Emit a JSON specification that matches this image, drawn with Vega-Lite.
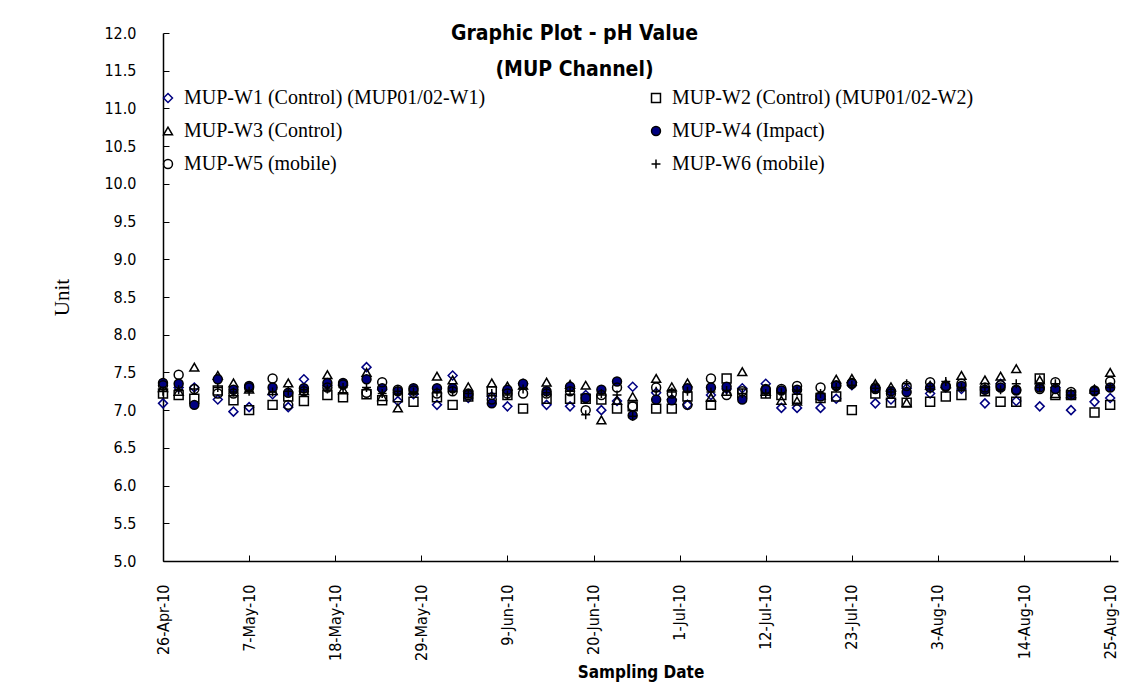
{
"$schema": "https://vega.github.io/schema/vega-lite/v6.json",
"width": 955, "height": 528,
"autosize": {"type": "none"},
"padding": {"left": 163, "top": 33, "right": 13, "bottom": 139},
"background": "white",
"config": {"view": {"stroke": null}, "font": "DejaVu Sans Condensed"},
"title": {"text": ["Graphic Plot - pH Value", "(MUP Channel)"], "font": "DejaVu Sans Condensed", "fontWeight": "bold", "fontSize": 21, "color": "black", "anchor": "middle", "dx": -66, "offset": -55, "lineHeight": 36},
"datasets": {"ph": [
{"date":"2010-04-26","series":"W1","pH":7.09},{"date":"2010-04-28","series":"W1","pH":7.30},{"date":"2010-04-30","series":"W1","pH":7.30},{"date":"2010-05-03","series":"W1","pH":7.14},{"date":"2010-05-05","series":"W1","pH":6.98},{"date":"2010-05-07","series":"W1","pH":7.04},{"date":"2010-05-10","series":"W1","pH":7.21},{"date":"2010-05-12","series":"W1","pH":7.04},{"date":"2010-05-14","series":"W1","pH":7.41},{"date":"2010-05-17","series":"W1","pH":7.33},{"date":"2010-05-19","series":"W1","pH":7.33},{"date":"2010-05-22","series":"W1","pH":7.57},{"date":"2010-05-24","series":"W1","pH":7.27},{"date":"2010-05-26","series":"W1","pH":7.12},{"date":"2010-05-28","series":"W1","pH":7.21},{"date":"2010-05-31","series":"W1","pH":7.07},{"date":"2010-06-02","series":"W1","pH":7.46},{"date":"2010-06-04","series":"W1","pH":7.16},{"date":"2010-06-07","series":"W1","pH":7.18},{"date":"2010-06-09","series":"W1","pH":7.05},{"date":"2010-06-11","series":"W1","pH":7.35},{"date":"2010-06-14","series":"W1","pH":7.07},{"date":"2010-06-17","series":"W1","pH":7.05},{"date":"2010-06-19","series":"W1","pH":7.20},{"date":"2010-06-21","series":"W1","pH":7.00},{"date":"2010-06-23","series":"W1","pH":7.12},{"date":"2010-06-25","series":"W1","pH":7.31},{"date":"2010-06-28","series":"W1","pH":7.23},{"date":"2010-06-30","series":"W1","pH":7.14},{"date":"2010-07-02","series":"W1","pH":7.07},{"date":"2010-07-05","series":"W1","pH":7.20},{"date":"2010-07-07","series":"W1","pH":7.28},{"date":"2010-07-09","series":"W1","pH":7.29},{"date":"2010-07-12","series":"W1","pH":7.35},{"date":"2010-07-14","series":"W1","pH":7.03},{"date":"2010-07-16","series":"W1","pH":7.03},{"date":"2010-07-19","series":"W1","pH":7.03},{"date":"2010-07-21","series":"W1","pH":7.15},{"date":"2010-07-23","series":"W1","pH":7.33},{"date":"2010-07-26","series":"W1","pH":7.09},{"date":"2010-07-28","series":"W1","pH":7.14},{"date":"2010-07-30","series":"W1","pH":7.29},{"date":"2010-08-02","series":"W1","pH":7.22},{"date":"2010-08-04","series":"W1","pH":7.30},{"date":"2010-08-06","series":"W1","pH":7.28},{"date":"2010-08-09","series":"W1","pH":7.09},{"date":"2010-08-11","series":"W1","pH":7.35},{"date":"2010-08-13","series":"W1","pH":7.12},{"date":"2010-08-16","series":"W1","pH":7.05},{"date":"2010-08-18","series":"W1","pH":7.30},{"date":"2010-08-20","series":"W1","pH":7.00},{"date":"2010-08-23","series":"W1","pH":7.11},{"date":"2010-08-25","series":"W1","pH":7.16},
{"date":"2010-04-26","series":"W2","pH":7.22},{"date":"2010-04-28","series":"W2","pH":7.20},{"date":"2010-04-30","series":"W2","pH":7.15},{"date":"2010-05-03","series":"W2","pH":7.26},{"date":"2010-05-05","series":"W2","pH":7.13},{"date":"2010-05-07","series":"W2","pH":7.00},{"date":"2010-05-10","series":"W2","pH":7.07},{"date":"2010-05-12","series":"W2","pH":7.18},{"date":"2010-05-14","series":"W2","pH":7.12},{"date":"2010-05-17","series":"W2","pH":7.20},{"date":"2010-05-19","series":"W2","pH":7.17},{"date":"2010-05-22","series":"W2","pH":7.21},{"date":"2010-05-24","series":"W2","pH":7.13},{"date":"2010-05-26","series":"W2","pH":7.17},{"date":"2010-05-28","series":"W2","pH":7.11},{"date":"2010-05-31","series":"W2","pH":7.17},{"date":"2010-06-02","series":"W2","pH":7.07},{"date":"2010-06-04","series":"W2","pH":7.18},{"date":"2010-06-07","series":"W2","pH":7.25},{"date":"2010-06-09","series":"W2","pH":7.20},{"date":"2010-06-11","series":"W2","pH":7.02},{"date":"2010-06-14","series":"W2","pH":7.15},{"date":"2010-06-17","series":"W2","pH":7.15},{"date":"2010-06-19","series":"W2","pH":7.15},{"date":"2010-06-21","series":"W2","pH":7.14},{"date":"2010-06-23","series":"W2","pH":7.02},{"date":"2010-06-25","series":"W2","pH":7.05},{"date":"2010-06-28","series":"W2","pH":7.02},{"date":"2010-06-30","series":"W2","pH":7.02},{"date":"2010-07-02","series":"W2","pH":7.18},{"date":"2010-07-05","series":"W2","pH":7.07},{"date":"2010-07-07","series":"W2","pH":7.42},{"date":"2010-07-09","series":"W2","pH":7.22},{"date":"2010-07-12","series":"W2","pH":7.22},{"date":"2010-07-14","series":"W2","pH":7.20},{"date":"2010-07-16","series":"W2","pH":7.15},{"date":"2010-07-19","series":"W2","pH":7.16},{"date":"2010-07-21","series":"W2","pH":7.18},{"date":"2010-07-23","series":"W2","pH":7.00},{"date":"2010-07-26","series":"W2","pH":7.22},{"date":"2010-07-28","series":"W2","pH":7.10},{"date":"2010-07-30","series":"W2","pH":7.10},{"date":"2010-08-02","series":"W2","pH":7.11},{"date":"2010-08-04","series":"W2","pH":7.18},{"date":"2010-08-06","series":"W2","pH":7.20},{"date":"2010-08-09","series":"W2","pH":7.25},{"date":"2010-08-11","series":"W2","pH":7.11},{"date":"2010-08-13","series":"W2","pH":7.11},{"date":"2010-08-16","series":"W2","pH":7.42},{"date":"2010-08-18","series":"W2","pH":7.20},{"date":"2010-08-20","series":"W2","pH":7.20},{"date":"2010-08-23","series":"W2","pH":6.97},{"date":"2010-08-25","series":"W2","pH":7.07},
{"date":"2010-04-26","series":"W3","pH":7.30},{"date":"2010-04-28","series":"W3","pH":7.25},{"date":"2010-04-30","series":"W3","pH":7.57},{"date":"2010-05-03","series":"W3","pH":7.46},{"date":"2010-05-05","series":"W3","pH":7.36},{"date":"2010-05-07","series":"W3","pH":7.28},{"date":"2010-05-10","series":"W3","pH":7.26},{"date":"2010-05-12","series":"W3","pH":7.36},{"date":"2010-05-14","series":"W3","pH":7.26},{"date":"2010-05-17","series":"W3","pH":7.47},{"date":"2010-05-19","series":"W3","pH":7.27},{"date":"2010-05-22","series":"W3","pH":7.50},{"date":"2010-05-24","series":"W3","pH":7.18},{"date":"2010-05-26","series":"W3","pH":7.03},{"date":"2010-05-28","series":"W3","pH":7.27},{"date":"2010-05-31","series":"W3","pH":7.45},{"date":"2010-06-02","series":"W3","pH":7.40},{"date":"2010-06-04","series":"W3","pH":7.31},{"date":"2010-06-07","series":"W3","pH":7.36},{"date":"2010-06-09","series":"W3","pH":7.32},{"date":"2010-06-11","series":"W3","pH":7.33},{"date":"2010-06-14","series":"W3","pH":7.37},{"date":"2010-06-17","series":"W3","pH":7.34},{"date":"2010-06-19","series":"W3","pH":7.33},{"date":"2010-06-21","series":"W3","pH":6.87},{"date":"2010-06-23","series":"W3","pH":7.13},{"date":"2010-06-25","series":"W3","pH":7.18},{"date":"2010-06-28","series":"W3","pH":7.42},{"date":"2010-06-30","series":"W3","pH":7.31},{"date":"2010-07-02","series":"W3","pH":7.36},{"date":"2010-07-05","series":"W3","pH":7.17},{"date":"2010-07-07","series":"W3","pH":7.25},{"date":"2010-07-09","series":"W3","pH":7.51},{"date":"2010-07-12","series":"W3","pH":7.25},{"date":"2010-07-14","series":"W3","pH":7.13},{"date":"2010-07-16","series":"W3","pH":7.12},{"date":"2010-07-19","series":"W3","pH":7.20},{"date":"2010-07-21","series":"W3","pH":7.41},{"date":"2010-07-23","series":"W3","pH":7.42},{"date":"2010-07-26","series":"W3","pH":7.35},{"date":"2010-07-28","series":"W3","pH":7.31},{"date":"2010-07-30","series":"W3","pH":7.10},{"date":"2010-08-02","series":"W3","pH":7.33},{"date":"2010-08-04","series":"W3","pH":7.35},{"date":"2010-08-06","series":"W3","pH":7.46},{"date":"2010-08-09","series":"W3","pH":7.40},{"date":"2010-08-11","series":"W3","pH":7.45},{"date":"2010-08-13","series":"W3","pH":7.55},{"date":"2010-08-16","series":"W3","pH":7.40},{"date":"2010-08-18","series":"W3","pH":7.22},{"date":"2010-08-20","series":"W3","pH":7.22},{"date":"2010-08-23","series":"W3","pH":7.28},{"date":"2010-08-25","series":"W3","pH":7.50},
{"date":"2010-04-26","series":"W4","pH":7.36},{"date":"2010-04-28","series":"W4","pH":7.35},{"date":"2010-04-30","series":"W4","pH":7.07},{"date":"2010-05-03","series":"W4","pH":7.41},{"date":"2010-05-05","series":"W4","pH":7.27},{"date":"2010-05-07","series":"W4","pH":7.32},{"date":"2010-05-10","series":"W4","pH":7.30},{"date":"2010-05-12","series":"W4","pH":7.23},{"date":"2010-05-14","series":"W4","pH":7.29},{"date":"2010-05-17","series":"W4","pH":7.36},{"date":"2010-05-19","series":"W4","pH":7.36},{"date":"2010-05-22","series":"W4","pH":7.41},{"date":"2010-05-24","series":"W4","pH":7.29},{"date":"2010-05-26","series":"W4","pH":7.25},{"date":"2010-05-28","series":"W4","pH":7.29},{"date":"2010-05-31","series":"W4","pH":7.29},{"date":"2010-06-02","series":"W4","pH":7.29},{"date":"2010-06-04","series":"W4","pH":7.22},{"date":"2010-06-07","series":"W4","pH":7.09},{"date":"2010-06-09","series":"W4","pH":7.27},{"date":"2010-06-11","series":"W4","pH":7.35},{"date":"2010-06-14","series":"W4","pH":7.25},{"date":"2010-06-17","series":"W4","pH":7.31},{"date":"2010-06-19","series":"W4","pH":7.16},{"date":"2010-06-21","series":"W4","pH":7.27},{"date":"2010-06-23","series":"W4","pH":7.38},{"date":"2010-06-25","series":"W4","pH":6.93},{"date":"2010-06-28","series":"W4","pH":7.14},{"date":"2010-06-30","series":"W4","pH":7.13},{"date":"2010-07-02","series":"W4","pH":7.29},{"date":"2010-07-05","series":"W4","pH":7.30},{"date":"2010-07-07","series":"W4","pH":7.31},{"date":"2010-07-09","series":"W4","pH":7.14},{"date":"2010-07-12","series":"W4","pH":7.27},{"date":"2010-07-14","series":"W4","pH":7.26},{"date":"2010-07-16","series":"W4","pH":7.27},{"date":"2010-07-19","series":"W4","pH":7.18},{"date":"2010-07-21","series":"W4","pH":7.33},{"date":"2010-07-23","series":"W4","pH":7.36},{"date":"2010-07-26","series":"W4","pH":7.28},{"date":"2010-07-28","series":"W4","pH":7.25},{"date":"2010-07-30","series":"W4","pH":7.24},{"date":"2010-08-02","series":"W4","pH":7.30},{"date":"2010-08-04","series":"W4","pH":7.32},{"date":"2010-08-06","series":"W4","pH":7.32},{"date":"2010-08-09","series":"W4","pH":7.27},{"date":"2010-08-11","series":"W4","pH":7.30},{"date":"2010-08-13","series":"W4","pH":7.27},{"date":"2010-08-16","series":"W4","pH":7.30},{"date":"2010-08-18","series":"W4","pH":7.28},{"date":"2010-08-20","series":"W4","pH":7.20},{"date":"2010-08-23","series":"W4","pH":7.25},{"date":"2010-08-25","series":"W4","pH":7.30},
{"date":"2010-04-26","series":"W5","pH":7.33},{"date":"2010-04-28","series":"W5","pH":7.47},{"date":"2010-04-30","series":"W5","pH":7.28},{"date":"2010-05-03","series":"W5","pH":7.22},{"date":"2010-05-05","series":"W5","pH":7.22},{"date":"2010-05-07","series":"W5","pH":7.30},{"date":"2010-05-10","series":"W5","pH":7.42},{"date":"2010-05-12","series":"W5","pH":7.07},{"date":"2010-05-14","series":"W5","pH":7.25},{"date":"2010-05-17","series":"W5","pH":7.30},{"date":"2010-05-19","series":"W5","pH":7.34},{"date":"2010-05-22","series":"W5","pH":7.23},{"date":"2010-05-24","series":"W5","pH":7.37},{"date":"2010-05-26","series":"W5","pH":7.27},{"date":"2010-05-28","series":"W5","pH":7.26},{"date":"2010-05-31","series":"W5","pH":7.22},{"date":"2010-06-02","series":"W5","pH":7.25},{"date":"2010-06-04","series":"W5","pH":7.20},{"date":"2010-06-07","series":"W5","pH":7.14},{"date":"2010-06-09","series":"W5","pH":7.22},{"date":"2010-06-11","series":"W5","pH":7.22},{"date":"2010-06-14","series":"W5","pH":7.22},{"date":"2010-06-17","series":"W5","pH":7.25},{"date":"2010-06-19","series":"W5","pH":7.00},{"date":"2010-06-21","series":"W5","pH":7.20},{"date":"2010-06-23","series":"W5","pH":7.30},{"date":"2010-06-25","series":"W5","pH":7.05},{"date":"2010-06-28","series":"W5","pH":7.30},{"date":"2010-06-30","series":"W5","pH":7.22},{"date":"2010-07-02","series":"W5","pH":7.07},{"date":"2010-07-05","series":"W5","pH":7.42},{"date":"2010-07-07","series":"W5","pH":7.20},{"date":"2010-07-09","series":"W5","pH":7.25},{"date":"2010-07-12","series":"W5","pH":7.28},{"date":"2010-07-14","series":"W5","pH":7.28},{"date":"2010-07-16","series":"W5","pH":7.32},{"date":"2010-07-19","series":"W5","pH":7.30},{"date":"2010-07-21","series":"W5","pH":7.32},{"date":"2010-07-23","series":"W5","pH":7.35},{"date":"2010-07-26","series":"W5","pH":7.30},{"date":"2010-07-28","series":"W5","pH":7.22},{"date":"2010-07-30","series":"W5","pH":7.32},{"date":"2010-08-02","series":"W5","pH":7.37},{"date":"2010-08-04","series":"W5","pH":7.31},{"date":"2010-08-06","series":"W5","pH":7.35},{"date":"2010-08-09","series":"W5","pH":7.30},{"date":"2010-08-11","series":"W5","pH":7.33},{"date":"2010-08-13","series":"W5","pH":7.26},{"date":"2010-08-16","series":"W5","pH":7.28},{"date":"2010-08-18","series":"W5","pH":7.37},{"date":"2010-08-20","series":"W5","pH":7.24},{"date":"2010-08-23","series":"W5","pH":7.26},{"date":"2010-08-25","series":"W5","pH":7.38},
{"date":"2010-04-26","series":"W6","pH":7.25},{"date":"2010-04-28","series":"W6","pH":7.27},{"date":"2010-04-30","series":"W6","pH":7.28},{"date":"2010-05-03","series":"W6","pH":7.30},{"date":"2010-05-05","series":"W6","pH":7.24},{"date":"2010-05-07","series":"W6","pH":7.25},{"date":"2010-05-10","series":"W6","pH":7.24},{"date":"2010-05-12","series":"W6","pH":7.25},{"date":"2010-05-14","series":"W6","pH":7.27},{"date":"2010-05-17","series":"W6","pH":7.28},{"date":"2010-05-19","series":"W6","pH":7.30},{"date":"2010-05-22","series":"W6","pH":7.30},{"date":"2010-05-24","series":"W6","pH":7.22},{"date":"2010-05-26","series":"W6","pH":7.25},{"date":"2010-05-28","series":"W6","pH":7.24},{"date":"2010-05-31","series":"W6","pH":7.24},{"date":"2010-06-02","series":"W6","pH":7.25},{"date":"2010-06-04","series":"W6","pH":7.22},{"date":"2010-06-07","series":"W6","pH":7.22},{"date":"2010-06-09","series":"W6","pH":7.20},{"date":"2010-06-11","series":"W6","pH":7.28},{"date":"2010-06-14","series":"W6","pH":7.23},{"date":"2010-06-17","series":"W6","pH":7.25},{"date":"2010-06-19","series":"W6","pH":6.94},{"date":"2010-06-21","series":"W6","pH":7.22},{"date":"2010-06-23","series":"W6","pH":7.20},{"date":"2010-06-25","series":"W6","pH":6.92},{"date":"2010-06-28","series":"W6","pH":7.25},{"date":"2010-06-30","series":"W6","pH":7.24},{"date":"2010-07-02","series":"W6","pH":7.25},{"date":"2010-07-05","series":"W6","pH":7.24},{"date":"2010-07-07","series":"W6","pH":7.26},{"date":"2010-07-09","series":"W6","pH":7.22},{"date":"2010-07-12","series":"W6","pH":7.22},{"date":"2010-07-14","series":"W6","pH":7.23},{"date":"2010-07-16","series":"W6","pH":7.25},{"date":"2010-07-19","series":"W6","pH":7.22},{"date":"2010-07-21","series":"W6","pH":7.30},{"date":"2010-07-23","series":"W6","pH":7.33},{"date":"2010-07-26","series":"W6","pH":7.29},{"date":"2010-07-28","series":"W6","pH":7.24},{"date":"2010-07-30","series":"W6","pH":7.35},{"date":"2010-08-02","series":"W6","pH":7.28},{"date":"2010-08-04","series":"W6","pH":7.38},{"date":"2010-08-06","series":"W6","pH":7.30},{"date":"2010-08-09","series":"W6","pH":7.30},{"date":"2010-08-11","series":"W6","pH":7.27},{"date":"2010-08-13","series":"W6","pH":7.35},{"date":"2010-08-16","series":"W6","pH":7.30},{"date":"2010-08-18","series":"W6","pH":7.35},{"date":"2010-08-20","series":"W6","pH":7.20},{"date":"2010-08-23","series":"W6","pH":7.25},{"date":"2010-08-25","series":"W6","pH":7.30}
]},
"data": {"name": "ph"},
"mark": {"type": "point", "filled": false, "strokeWidth": 1.5, "size": 80, "opacity": 1},
"encoding": {
  "x": {"field": "date", "type": "temporal",
    "scale": {"type": "utc", "domain": [{"year": 2010, "month": 4, "date": 26, "utc": true}, {"year": 2010, "month": 8, "date": 26, "utc": true}]},
    "axis": {"values": [{"year":2010,"month":4,"date":26,"utc":true},{"year":2010,"month":5,"date":7,"utc":true},{"year":2010,"month":5,"date":18,"utc":true},{"year":2010,"month":5,"date":29,"utc":true},{"year":2010,"month":6,"date":9,"utc":true},{"year":2010,"month":6,"date":20,"utc":true},{"year":2010,"month":7,"date":1,"utc":true},{"year":2010,"month":7,"date":12,"utc":true},{"year":2010,"month":7,"date":23,"utc":true},{"year":2010,"month":8,"date":3,"utc":true},{"year":2010,"month":8,"date":14,"utc":true},{"year":2010,"month":8,"date":25,"utc":true}],
      "format": "%-d-%b-%y", "labelAngle": 270, "labelFont": "DejaVu Sans Condensed", "labelFontSize": 16, "labelColor": "black", "labelPadding": 29,
      "tickSize": -6, "tickColor": "black", "domainColor": "black", "domainWidth": 1.5, "grid": false,
      "title": "Sampling Date", "titleFont": "DejaVu Sans Condensed", "titleFontSize": 17, "titleFontWeight": "bold", "titleColor": "black", "titlePadding": 4}},
  "y": {"field": "pH", "type": "quantitative",
    "scale": {"domain": [5, 12], "nice": false, "zero": false},
    "axis": {"values": [5, 5.5, 6, 6.5, 7, 7.5, 8, 8.5, 9, 9.5, 10, 10.5, 11, 11.5, 12], "format": ".1f",
      "labelFont": "DejaVu Sans Condensed", "labelFontSize": 16, "labelColor": "black", "labelPadding": 33,
      "tickSize": -6, "tickColor": "black", "domainColor": "black", "domainWidth": 1.5, "grid": false,
      "title": "Unit", "titleFont": "Liberation Serif", "titleFontSize": 21, "titleFontWeight": "normal", "titleColor": "black", "titlePadding": 31}},
  "shape": {"field": "series", "type": "nominal",
    "scale": {"domain": ["W1", "W2", "W3", "W4", "W5", "W6"], "range": ["diamond", "square", "triangle-up", "circle", "circle", "M-1,0H1M0,-1V1"]},
    "legend": {"orient": "none", "legendX": -5, "legendY": 55, "columns": 2, "direction": "horizontal", "title": null, "labelFont": "Liberation Serif", "labelFontSize": 20, "labelColor": "black", "symbolSize": 80, "symbolStrokeWidth": 1.5, "rowPadding": 13, "columnPadding": 160, "labelOffset": 6, "labelLimit": 500,
      "labelExpr": "datum.label == 'W1' ? 'MUP-W1 (Control) (MUP01/02-W1)' : datum.label == 'W2' ? 'MUP-W2 (Control) (MUP01/02-W2)' : datum.label == 'W3' ? 'MUP-W3 (Control)' : datum.label == 'W4' ? 'MUP-W4 (Impact)' : datum.label == 'W5' ? 'MUP-W5 (mobile)' : 'MUP-W6 (mobile)'"}},
  "stroke": {"field": "series", "type": "nominal",
    "scale": {"domain": ["W1", "W2", "W3", "W4", "W5", "W6"], "range": ["#000080", "#000000", "#000000", "#000000", "#000000", "#000000"]},
    "legend": {"orient": "none", "legendX": -5, "legendY": 55, "columns": 2, "direction": "horizontal", "title": null, "labelFont": "Liberation Serif", "labelFontSize": 20, "labelColor": "black", "symbolSize": 80, "symbolStrokeWidth": 1.5, "rowPadding": 13, "columnPadding": 160, "labelOffset": 6, "labelLimit": 500,
      "labelExpr": "datum.label == 'W1' ? 'MUP-W1 (Control) (MUP01/02-W1)' : datum.label == 'W2' ? 'MUP-W2 (Control) (MUP01/02-W2)' : datum.label == 'W3' ? 'MUP-W3 (Control)' : datum.label == 'W4' ? 'MUP-W4 (Impact)' : datum.label == 'W5' ? 'MUP-W5 (mobile)' : 'MUP-W6 (mobile)'"}},
  "fill": {"field": "series", "type": "nominal",
    "scale": {"domain": ["W1", "W2", "W3", "W4", "W5", "W6"], "range": ["transparent", "transparent", "transparent", "#000080", "transparent", "transparent"]},
    "legend": {"orient": "none", "legendX": -5, "legendY": 55, "columns": 2, "direction": "horizontal", "title": null, "labelFont": "Liberation Serif", "labelFontSize": 20, "labelColor": "black", "symbolSize": 80, "symbolStrokeWidth": 1.5, "rowPadding": 13, "columnPadding": 160, "labelOffset": 6, "labelLimit": 500,
      "labelExpr": "datum.label == 'W1' ? 'MUP-W1 (Control) (MUP01/02-W1)' : datum.label == 'W2' ? 'MUP-W2 (Control) (MUP01/02-W2)' : datum.label == 'W3' ? 'MUP-W3 (Control)' : datum.label == 'W4' ? 'MUP-W4 (Impact)' : datum.label == 'W5' ? 'MUP-W5 (mobile)' : 'MUP-W6 (mobile)'"}}
}
}
